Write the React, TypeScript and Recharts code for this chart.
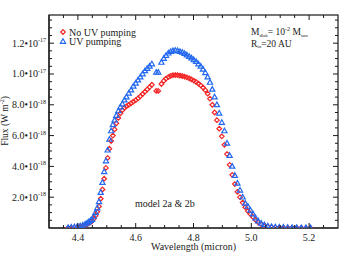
import { ScatterChart, Scatter, XAxis, YAxis, Customized } from "recharts";

// CO fundamental band profile, flux in units of 1e-18 W m^-2
const wavelength = [
  4.366, 4.377, 4.388, 4.398, 4.408, 4.417, 4.425, 4.432, 4.438, 4.444,
  4.449, 4.455, 4.461, 4.467, 4.473, 4.479, 4.485, 4.491, 4.497, 4.503,
  4.509, 4.515, 4.521, 4.527, 4.533, 4.54, 4.547, 4.554, 4.561, 4.568,
  4.576, 4.584, 4.592, 4.6, 4.608, 4.616, 4.624, 4.632, 4.64, 4.648,
  4.656, 4.671, 4.678, 4.689, 4.697, 4.705, 4.713, 4.721, 4.729, 4.737,
  4.745, 4.753, 4.761, 4.769, 4.777, 4.785, 4.793, 4.801, 4.809, 4.817,
  4.825, 4.833, 4.841, 4.849, 4.857, 4.865, 4.873, 4.881, 4.889, 4.898,
  4.907, 4.916, 4.925, 4.934, 4.943, 4.952, 4.961, 4.97, 4.979, 4.988,
  4.997, 5.006, 5.015, 5.024, 5.034, 5.045, 5.057, 5.07, 5.083, 5.097,
  5.111, 5.126, 5.141, 5.157, 5.173, 5.189, 5.205,
];

const fluxNoUv = [
  0.01, 0.02, 0.04, 0.06, 0.09, 0.13, 0.19, 0.25, 0.32, 0.38,
  0.45, 0.6, 0.8, 1.05, 1.4, 1.9, 2.5, 3.2, 3.9, 4.55,
  5.15, 5.65, 6.0, 6.4, 6.8, 7.15, 7.45, 7.65, 7.8, 7.9,
  8.0, 8.1, 8.2, 8.3, 8.42, 8.55, 8.7, 8.85, 9.0, 9.15,
  9.3, 8.9, 8.9, 9.35, 9.55, 9.7, 9.8, 9.88, 9.92, 9.93,
  9.92, 9.9, 9.87, 9.83, 9.78, 9.72, 9.65, 9.57, 9.48, 9.38,
  9.26, 9.12, 8.95, 8.72, 8.4, 8.0, 7.5, 7.0, 6.45, 5.95,
  5.4, 4.8, 4.1, 3.45, 2.85, 2.35, 2.0, 1.65, 1.35, 1.1,
  0.9, 0.7, 0.52, 0.36, 0.24, 0.16, 0.1, 0.06, 0.04, 0.03,
  0.02, 0.02, 0.01, 0.01, 0.01, 0.0, 0.0,
];

const fluxUv = [
  0.02, 0.04, 0.06, 0.09, 0.13, 0.18, 0.25, 0.32, 0.4, 0.48,
  0.55, 0.75, 1.0, 1.3, 1.7, 2.3, 2.95, 3.65, 4.35, 5.05,
  5.75, 6.3, 6.7, 7.0, 7.3, 7.6, 7.85, 8.05, 8.3, 8.5,
  8.75, 8.95, 9.2, 9.4, 9.6, 9.8, 10.0, 10.2, 10.35, 10.5,
  10.65, 10.1, 10.1, 10.75, 11.0, 11.2, 11.35, 11.45, 11.5, 11.52,
  11.5, 11.45, 11.4, 11.32, 11.23, 11.13, 11.03, 10.92, 10.8, 10.65,
  10.5, 10.3, 10.08, 9.8, 9.45, 9.0, 8.5, 8.0, 7.45, 6.85,
  6.3, 5.5, 4.7, 4.0, 3.4, 2.9, 2.45, 2.0, 1.6, 1.4,
  1.15, 0.9, 0.65, 0.45, 0.3, 0.2, 0.12, 0.08, 0.06, 0.05,
  0.04, 0.03, 0.02, 0.02, 0.01, 0.01, 0.01,
];

const xMajor = [4.4, 4.6, 4.8, 5.0, 5.2];
const xMinor = [4.35, 4.45, 4.5, 4.55, 4.65, 4.7, 4.75, 4.85, 4.9, 4.95, 5.05, 5.1, 5.15, 5.25];
const yMajor = [2, 4, 6, 8, 10, 12];
const yMantissa = ["2.0", "4.0", "6.0", "8.0", "1.0", "1.2"];
const yExponent = ["-18", "-18", "-18", "-18", "-17", "-17"];
const yMinor = [0.5, 1, 1.5, 2.5, 3, 3.5, 4.5, 5, 5.5, 6.5, 7, 7.5, 8.5, 9, 9.5, 10.5, 11, 11.5, 12.5, 13, 13.5];

const X_DOMAIN = [4.3, 5.3];
const Y_DOMAIN = [0, 13.83];

const seriesNames = ["No UV pumping", "UV pumping"];

const RED = "#f42424";
const BLUE = "#2268f0";
const INK = "#1a1a1a";
const FONT = "'Liberation Serif', 'Times New Roman', serif";

// chart box
const W = 352;
const H = 259;
const M = { top: 15, right: 14, bottom: 0, left: 0 };
const Y_AXIS_W = 49;
const X_AXIS_H = 31;
const PLOT_X = M.left + Y_AXIS_W;
const PLOT_Y = M.top;
const PLOT_W = W - M.left - M.right - Y_AXIS_W;
const PLOT_H = H - M.top - M.bottom - X_AXIS_H;

const noUvData = wavelength.map((w, i) => ({ w, f: fluxNoUv[i] }));
const uvData = wavelength.map((w, i) => ({ w, f: fluxUv[i] }));

const near = (list: number[], v: number) => list.findIndex((m) => Math.abs(m - v) < 1e-6);

const Diamond = (props: any) => {
  const { cx, cy } = props;
  const r = 2.3;
  return (
    <polygon
      points={`${cx},${cy - r} ${cx + r},${cy} ${cx},${cy + r} ${cx - r},${cy}`}
      fill="none"
      stroke={RED}
      strokeWidth={1.2}
    />
  );
};

const Triangle = (props: any) => {
  const { cx, cy } = props;
  return (
    <polygon
      points={`${cx},${cy - 2.8} ${cx + 2.6},${cy + 1.8} ${cx - 2.6},${cy + 1.8}`}
      fill="none"
      stroke={BLUE}
      strokeWidth={1.2}
    />
  );
};

const LeftTick = (props: any) => {
  const { x, y, payload } = props;
  const i = near(yMajor, payload.value);
  return (
    <g>
      <line x1={x} x2={x + (i >= 0 ? 5 : 3)} y1={y} y2={y} stroke={INK} />
      {i >= 0 && (
        <text x={x - 3} y={y} dy={3.5} textAnchor="end" fontSize={10} fontFamily={FONT} fill={INK}>
          {yMantissa[i]}•10
          <tspan dy={-4.5} fontSize={6}>
            {yExponent[i]}
          </tspan>
        </text>
      )}
    </g>
  );
};

const BottomTick = (props: any) => {
  const { x, y, payload } = props;
  const major = near(xMajor, payload.value) >= 0;
  return (
    <g>
      <line x1={x} x2={x} y1={y} y2={y - (major ? 5 : 3)} stroke={INK} />
      {major && (
        <text x={x} y={y + 12.5} textAnchor="middle" fontSize={10} fontFamily={FONT} fill={INK}>
          {payload.value.toFixed(1)}
        </text>
      )}
    </g>
  );
};

// box outline plus inward ticks along its top and right edges
const Frame = () => {
  const sx = (v: number) => PLOT_X + ((v - X_DOMAIN[0]) / (X_DOMAIN[1] - X_DOMAIN[0])) * PLOT_W;
  const sy = (v: number) => PLOT_Y + PLOT_H - ((v - Y_DOMAIN[0]) / (Y_DOMAIN[1] - Y_DOMAIN[0])) * PLOT_H;
  const right = PLOT_X + PLOT_W;
  return (
    <g>
      <rect x={PLOT_X} y={PLOT_Y} width={PLOT_W} height={PLOT_H} fill="none" stroke={INK} strokeWidth={1.2} />
      {[...xMajor, ...xMinor].map((v) => (
        <line key={`t${v}`} x1={sx(v)} x2={sx(v)} y1={PLOT_Y} y2={PLOT_Y + (near(xMajor, v) >= 0 ? 5 : 3)} stroke={INK} />
      ))}
      {[...yMajor, ...yMinor].map((v) => (
        <line key={`r${v}`} x1={right} x2={right - (near(yMajor, v) >= 0 ? 5 : 3)} y1={sy(v)} y2={sy(v)} stroke={INK} />
      ))}
    </g>
  );
};

const Annotations = () => (
  <g fontFamily={FONT} fill={INK}>
    <Frame />
    {/* legend */}
    <Diamond cx={63} cy={32} />
    <text x={69} y={35.5} fontSize={10}>{seriesNames[0]}</text>
    <Triangle cx={63} cy={41.5} />
    <text x={69} y={45} fontSize={10}>{seriesNames[1]}</text>

    <text x={251} y={35} fontSize={9.5}>
      M<tspan fontSize={5} dy={1.5}>disk</tspan>
      <tspan dy={-1.5}>= 10</tspan>
      <tspan fontSize={6} dy={-4}>-2</tspan>
      <tspan dy={4}> M</tspan>
      <tspan fontSize={5} dy={1.5}>sun</tspan>
    </text>
    <text x={251} y={46.5} fontSize={9.5}>
      R<tspan fontSize={5} dy={1.5}>in</tspan>
      <tspan dy={-1.5}>=20 AU</tspan>
    </text>

    <text x={135} y={207} fontSize={10}>model 2a &amp; 2b</text>

    <text x={193.5} y={250} fontSize={10} textAnchor="middle">Wavelength (micron)</text>
    <text transform="translate(8,121) rotate(-90)" fontSize={9.5} textAnchor="middle">
      Flux (W m<tspan fontSize={6} dy={-4}>-2</tspan>
      <tspan dy={4}>)</tspan>
    </text>
  </g>
);

export default function App() {
  return (
    <div style={{ position: "absolute", left: 0, top: 0, width: W, height: H, background: "#fff" }}>
      <ScatterChart width={W} height={H} margin={M}>
        <XAxis
          type="number"
          dataKey="w"
          domain={X_DOMAIN}
          ticks={[...xMajor, ...xMinor]}
          interval={0}
          allowDataOverflow
          height={X_AXIS_H}
          tickSize={0}
          tickMargin={0}
          tickLine={false}
          tick={<BottomTick />}
          axisLine={{ stroke: INK, strokeWidth: 1.2 }}
        />
        <YAxis
          type="number"
          dataKey="f"
          domain={Y_DOMAIN}
          ticks={[...yMajor, ...yMinor]}
          interval={0}
          allowDataOverflow
          width={Y_AXIS_W}
          tickSize={0}
          tickMargin={0}
          tickLine={false}
          tick={<LeftTick />}
          axisLine={{ stroke: INK, strokeWidth: 1.2 }}
        />
        <Scatter name={seriesNames[0]} data={noUvData} shape={<Diamond />} isAnimationActive={false} />
        <Scatter name={seriesNames[1]} data={uvData} shape={<Triangle />} isAnimationActive={false} />
        <Customized component={Annotations} />
      </ScatterChart>
    </div>
  );
}
